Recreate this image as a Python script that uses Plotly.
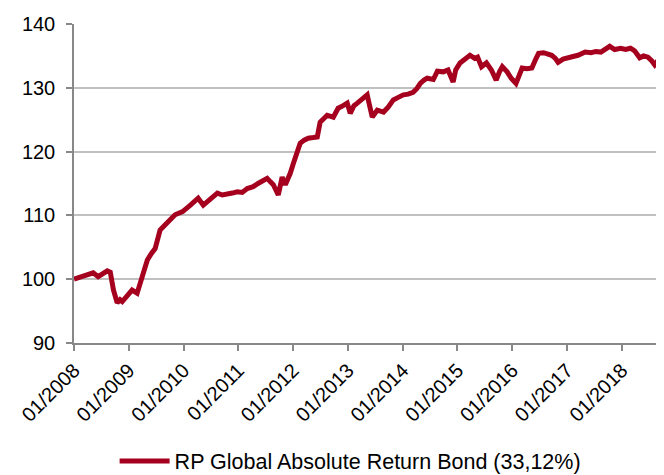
import plotly.graph_objects as go

dates = [
    "2008-01-01", "2008-02-01", "2008-03-01", "2008-04-05", "2008-05-08", "2008-06-10",
    "2008-07-15", "2008-08-10", "2008-08-30", "2008-09-20", "2008-10-15", "2008-11-03",
    "2008-11-18", "2008-12-20", "2009-01-22", "2009-02-25", "2009-04-01", "2009-05-04",
    "2009-05-30", "2009-06-25", "2009-07-28", "2009-08-25", "2009-09-20", "2009-11-05",
    "2009-12-25", "2010-02-15", "2010-04-08", "2010-05-12", "2010-06-15", "2010-07-18",
    "2010-08-14", "2010-09-16", "2010-10-20", "2010-11-22", "2010-12-25", "2011-01-27",
    "2011-03-01", "2011-04-10", "2011-05-12", "2011-06-15", "2011-07-12", "2011-08-01",
    "2011-08-22", "2011-09-24", "2011-10-20", "2011-11-10", "2011-11-30", "2011-12-13",
    "2012-01-01", "2012-01-15", "2012-02-17", "2012-03-15", "2012-04-11", "2012-05-14",
    "2012-06-10", "2012-06-29", "2012-07-25", "2012-08-15", "2012-09-25", "2012-10-27",
    "2012-11-30", "2012-12-27", "2013-01-16", "2013-02-10", "2013-03-04", "2013-04-06",
    "2013-05-09", "2013-05-22", "2013-06-12", "2013-07-15", "2013-08-26", "2013-09-27",
    "2013-10-30", "2013-12-02", "2014-01-05", "2014-02-06", "2014-03-11", "2014-04-06",
    "2014-04-28", "2014-05-23", "2014-06-13", "2014-07-24", "2014-08-20", "2014-09-28",
    "2014-10-30", "2014-12-03", "2014-12-20", "2015-01-18", "2015-02-21", "2015-03-25",
    "2015-04-26", "2015-05-15", "2015-06-10", "2015-07-13", "2015-08-15", "2015-09-16",
    "2015-10-08", "2015-10-27", "2015-11-28", "2015-12-25", "2016-01-26", "2016-02-15",
    "2016-03-07", "2016-04-08", "2016-05-11", "2016-06-06", "2016-06-25", "2016-07-28",
    "2016-08-30", "2016-09-20", "2016-10-15", "2016-11-02", "2016-12-05", "2017-01-08",
    "2017-02-10", "2017-03-15", "2017-05-01", "2017-06-10", "2017-07-12", "2017-08-14",
    "2017-09-16", "2017-10-12", "2017-11-14", "2017-12-24", "2018-01-26", "2018-02-28",
    "2018-03-27", "2018-04-30", "2018-05-26", "2018-06-24", "2018-07-20", "2018-08-08",
    "2018-08-28", "2018-09-24", "2018-10-08",
]

values = [
    100.0, 100.2, 100.4, 100.6, 101.0, 100.4,
    100.9, 101.3, 101.1, 98.3, 96.3, 96.8,
    96.5, 97.5, 98.3, 97.8, 100.4, 103.0,
    104.0, 104.8, 107.7, 108.5, 109.0, 110.1,
    110.6, 111.6, 112.7, 111.6, 112.3, 112.9,
    113.5, 113.2, 113.3, 113.5, 113.7, 113.6,
    114.2, 114.5, 115.0, 115.4, 115.8, 115.3,
    114.8, 113.2, 116.0, 114.8, 115.8, 116.6,
    118.0, 119.2, 121.3, 121.8, 122.1, 122.2,
    122.3, 124.6, 125.3, 125.7, 125.4, 126.8,
    127.2, 127.6, 126.0, 127.2, 127.6, 128.3,
    128.9, 127.5, 125.4, 126.5, 126.2, 127.0,
    128.1, 128.5, 128.9, 129.0, 129.3, 129.9,
    130.7, 131.2, 131.5, 131.3, 132.6, 132.5,
    132.8, 130.9, 132.8, 133.9, 134.5, 135.1,
    134.6, 134.8, 133.3, 133.9, 132.8, 131.2,
    132.5, 133.3, 132.5, 131.5, 130.7, 132.0,
    133.1, 133.0, 133.1, 134.5, 135.4, 135.5,
    135.3, 135.1, 134.6, 134.0, 134.5, 134.8,
    134.9, 135.1, 135.6, 135.5, 135.7, 135.6,
    136.0, 136.5, 136.0, 136.2, 136.0, 136.2,
    135.8, 134.7, 135.0, 134.8, 134.2, 133.6,
    134.2, 134.0, 134.1,
]

series_name = "RP Global Absolute Return Bond (33,12%)"
y_ticks = [90, 100, 110, 120, 130, 140]

fig = go.Figure()
fig.add_trace(go.Scatter(
    x=dates, y=values, mode="lines", name=series_name,
    line=dict(color="#A6001F", width=5, shape="linear"),
))

# page body has an 8px margin, so the figure is sized to fit inside the window
fig.update_layout(
    width=656, height=467,
    margin=dict(l=66, r=0, t=16, b=132, autoexpand=False),
    paper_bgcolor="white", plot_bgcolor="white",
    font=dict(family="Arial, Liberation Sans, sans-serif", size=20, color="black"),
    showlegend=True,
    legend=dict(orientation="h", x=0.468, xanchor="center", y=-0.306, yanchor="top",
                font=dict(size=21.5), itemwidth=50),
)
fig.update_xaxes(
    type="date", range=["2008-01-01", "2018-10-09"], automargin=False,
    tick0="2008-01-01", dtick="M12", tickformat="%m/%Y", tickangle=-45,
    showgrid=False, showline=True, linecolor="#888888", linewidth=1.5,
    ticks="outside", ticklen=6, tickcolor="#888888", tickwidth=1.5,
)
fig.update_yaxes(
    range=[90, 140], tickvals=y_ticks, showgrid=True, gridcolor="#C0C0C0", gridwidth=1.5,
    showline=True, linecolor="#888888", linewidth=1.5, automargin=False,
    ticks="outside", ticklen=6, tickcolor="#888888", tickwidth=1.5, zeroline=False,
    ticklabelstandoff=7,
)

fig.write_html("out.html")
